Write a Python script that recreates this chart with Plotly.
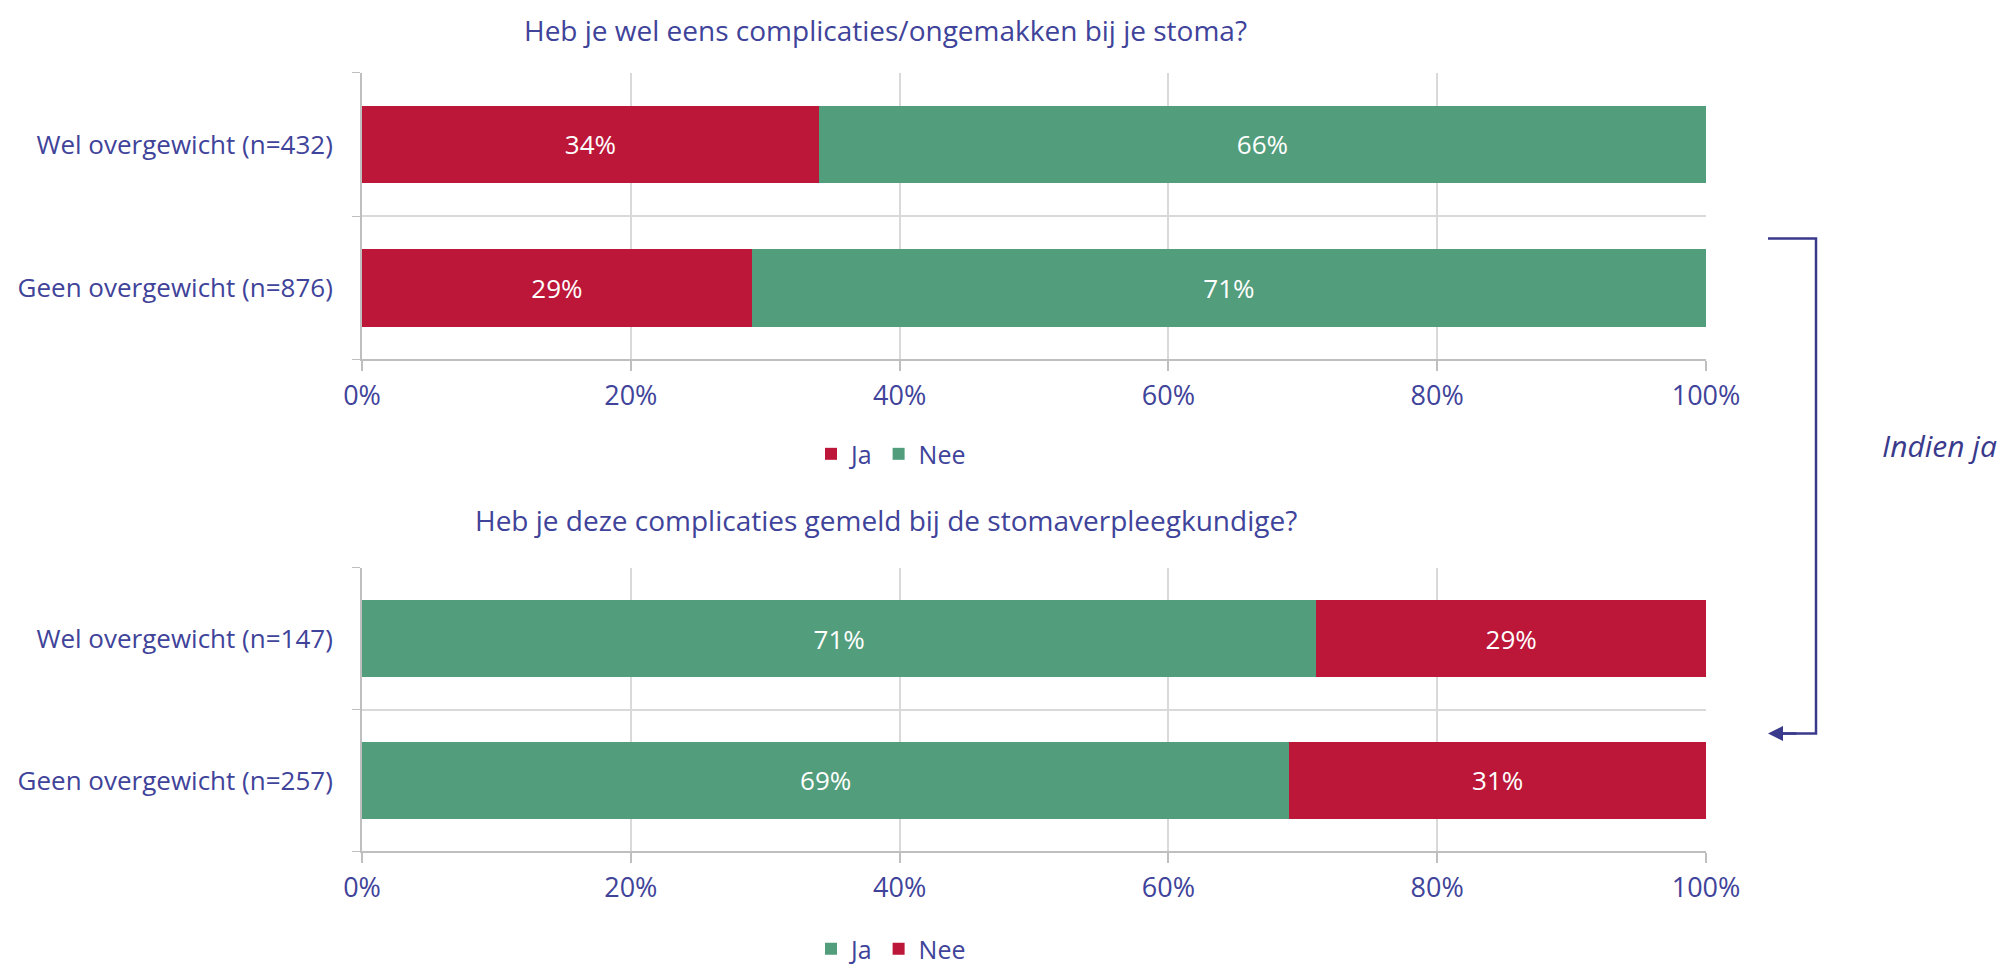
import plotly.graph_objects as go

# ---- data ----
groups_q1 = ["Wel overgewicht (n=432)", "Geen overgewicht (n=876)"]
q1_ja = [34, 29]
q1_nee = [66, 71]

groups_q2 = ["Wel overgewicht (n=147)", "Geen overgewicht (n=257)"]
q2_ja = [71, 69]
q2_nee = [29, 31]

title_q1 = "Heb je wel eens complicaties/ongemakken bij je stoma?"
title_q2 = "Heb je deze complicaties gemeld bij de stomaverpleegkundige?"
x_ticks = [0, 20, 40, 60, 80, 100]
x_tick_labels = ["0%", "20%", "40%", "60%", "80%", "100%"]

RED = "#BC1638"
GREEN = "#529D7B"
TXT = "#40439A"
NAVY = "#3A3A8C"
FONT = "Open Sans"
W, H = 2008, 964
OFF = 8  # page body margin offset

fig = go.Figure()

def add_bar(x, y, name, color, xa, ya, legend):
    fig.add_trace(go.Bar(
        x=x, y=y, name=name, orientation="h",
        marker=dict(color=color, line=dict(width=0)),
        text=[f"{v}%" for v in x], textposition="inside",
        insidetextanchor="middle",
        textfont=dict(color="white", size=26, family=FONT),
        xaxis=xa, yaxis=ya, legend=legend,
    ))

add_bar(q1_ja, groups_q1, "Ja", RED, "x", "y", "legend")
add_bar(q1_nee, groups_q1, "Nee", GREEN, "x", "y", "legend")
add_bar(q2_ja, groups_q2, "Ja", GREEN, "x2", "y2", "legend2")
add_bar(q2_nee, groups_q2, "Nee", RED, "x2", "y2", "legend2")

def px_x(p):
    return (p - OFF) / W

def px_y(p):
    return 1 - (p - OFF) / H

xdom = [px_x(362), px_x(1706)]

xcommon = dict(
    range=[0, 100], tickvals=x_ticks, ticktext=x_tick_labels,
    showgrid=True, gridcolor="#D9D9D9", gridwidth=1.5,
    showline=True, linecolor="#BFBFBF", linewidth=2,
    ticks="outside", ticklen=10, tickcolor="#BFBFBF", tickwidth=1.5,
    tickfont=dict(size=27, color=TXT, family=FONT), ticklabelstandoff=1,
    zeroline=False, fixedrange=True, domain=xdom, automargin=False,
)
ycommon = dict(
    type="category", tickson="boundaries",
    showgrid=True, gridcolor="#D9D9D9", gridwidth=1.5,
    showline=True, linecolor="#BFBFBF", linewidth=2,
    ticks="outside", ticklen=8, tickcolor="#BFBFBF",
    tickfont=dict(size=26, color=TXT, family=FONT),
    ticklabelstandoff=22, automargin=False,
)

fig.update_layout(
    width=W, height=H,
    margin=dict(l=0, r=0, t=0, b=0),
    paper_bgcolor="white", plot_bgcolor="white",
    barmode="stack", bargap=0.456,
    font=dict(family=FONT, color=TXT),
    showlegend=True,
    xaxis=dict(**xcommon, anchor="y"),
    yaxis=dict(**ycommon, anchor="x", domain=[px_y(360), px_y(73)],
               categoryorder="array", categoryarray=groups_q1[::-1]),
    xaxis2=dict(**xcommon, anchor="y2"),
    yaxis2=dict(**ycommon, anchor="x2", domain=[px_y(853), px_y(569)],
                categoryorder="array", categoryarray=groups_q2[::-1]),
    legend=dict(orientation="h", x=px_x(891), y=px_y(455), xanchor="center",
                yanchor="middle", font=dict(size=25, color=TXT, family=FONT),
                traceorder="normal", itemwidth=30, bgcolor="rgba(0,0,0,0)"),
    legend2=dict(orientation="h", x=px_x(891), y=px_y(951), xanchor="center",
                 yanchor="middle", font=dict(size=25, color=TXT, family=FONT),
                 traceorder="normal", itemwidth=30, bgcolor="rgba(0,0,0,0)"),
)

fig.add_annotation(text=title_q1, x=px_x(885), y=1.0, xref="paper", yref="paper",
                   showarrow=False, font=dict(size=28, color=TXT, family=FONT),
                   xanchor="center", yanchor="top", yshift=-1)
fig.add_annotation(text=title_q2, x=px_x(886), y=px_y(521), xref="paper", yref="paper",
                   showarrow=False, font=dict(size=28, color=TXT, family=FONT),
                   xanchor="center", yanchor="middle")

# bracket with arrow
fig.add_shape(type="path", xref="paper", yref="paper",
              path=(f"M {px_x(1768)},{px_y(239)} L {px_x(1816)},{px_y(239)} "
                    f"L {px_x(1816)},{px_y(735)} L {px_x(1780)},{px_y(735)}"),
              line=dict(color=NAVY, width=2.5))
fig.add_annotation(x=px_x(1768), y=px_y(735), xref="paper", yref="paper",
                   ax=30, ay=0, text="", showarrow=True, arrowhead=2,
                   arrowsize=1.2, arrowwidth=2.5, arrowcolor=NAVY)
fig.add_annotation(text="<i>Indien ja</i>", x=px_x(1939), y=px_y(446),
                   xref="paper", yref="paper", showarrow=False,
                   font=dict(size=30, color=NAVY, family=FONT),
                   xanchor="center", yanchor="middle")

fig.write_html("out.html")
